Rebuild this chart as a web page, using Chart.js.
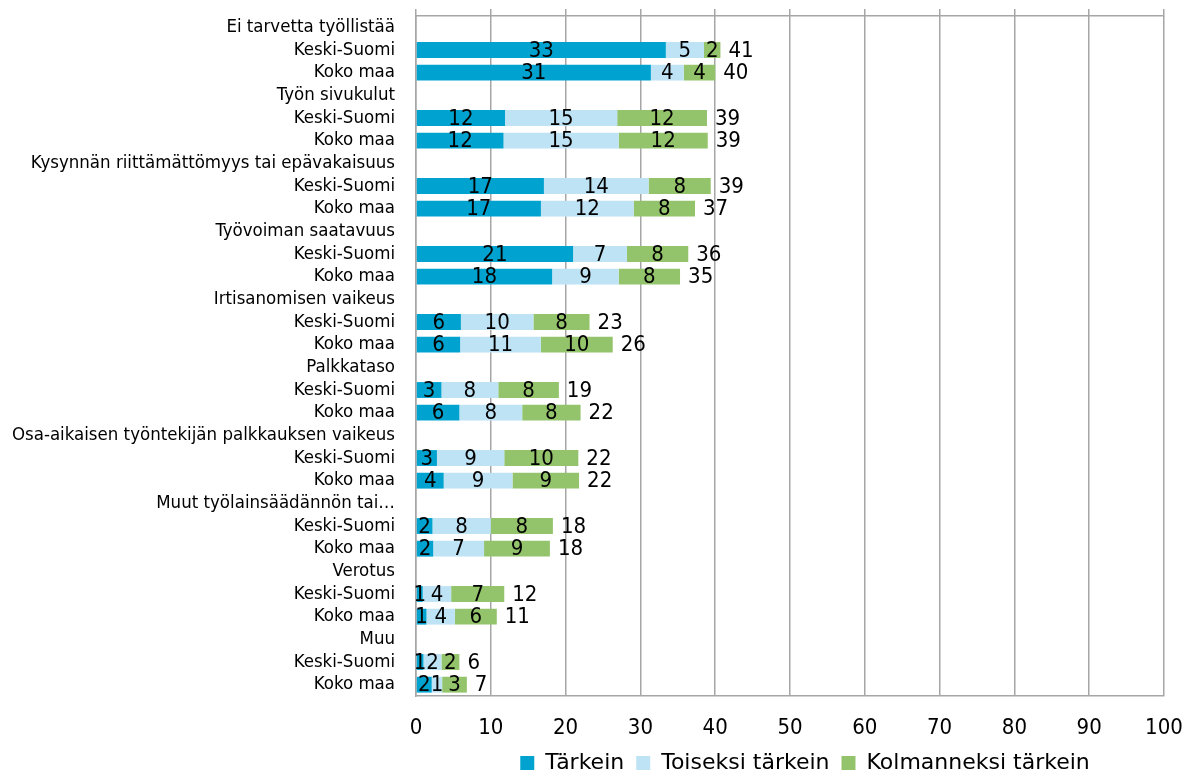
<!DOCTYPE html>
<html>
<head>
<meta charset="utf-8">
<script src="https://cdn.jsdelivr.net/npm/chart.js@4"></script>
<style>
  body { margin: 0; background: #fff; }
  canvas { display: block; }
</style>
</head>
<body>
<canvas id="myChart" width="1203" height="776"></canvas>
<script>
// rivit: otsikkorivi ilman palkkia + Keski-Suomi + Koko maa
const kategoriat = [
  "Ei tarvetta työllistää", "Keski-Suomi", "Koko maa",
  "Työn sivukulut", "Keski-Suomi", "Koko maa",
  "Kysynnän riittämättömyys tai epävakaisuus", "Keski-Suomi", "Koko maa",
  "Työvoiman saatavuus", "Keski-Suomi", "Koko maa",
  "Irtisanomisen vaikeus", "Keski-Suomi", "Koko maa",
  "Palkkataso", "Keski-Suomi", "Koko maa",
  "Osa-aikaisen työntekijän palkkauksen vaikeus", "Keski-Suomi", "Koko maa",
  "Muut työlainsäädännön tai…", "Keski-Suomi", "Koko maa",
  "Verotus", "Keski-Suomi", "Koko maa",
  "Muu", "Keski-Suomi", "Koko maa",
];

const tarkein = [
  null, 33.4, 31.4,
  null, 11.9, 11.7,
  null, 17.1, 16.7,
  null, 21.0, 18.2,
  null, 6.0, 5.9,
  null, 3.4, 5.8,
  null, 2.8, 3.7,
  null, 2.2, 2.3,
  null, 0.9, 1.4,
  null, 1.0, 2.1,
];
const toiseksi = [
  null, 5.1, 4.4,
  null, 15.0, 15.4,
  null, 14.0, 12.4,
  null, 7.2, 8.9,
  null, 9.7, 10.8,
  null, 7.6, 8.4,
  null, 9.0, 9.2,
  null, 7.8, 6.8,
  null, 3.8, 3.8,
  null, 2.4, 1.4,
];
const kolmanneksi = [
  null, 2.2, 4.2,
  null, 12.0, 11.9,
  null, 8.3, 8.2,
  null, 8.2, 8.2,
  null, 7.5, 9.6,
  null, 8.1, 7.8,
  null, 9.9, 8.9,
  null, 8.3, 8.8,
  null, 7.1, 5.6,
  null, 2.4, 3.3,
];

const xTicks = [0, 10, 20, 30, 40, 50, 60, 70, 80, 90, 100];

const fontti = "'DejaVu Sans Condensed', 'DejaVu Sans', sans-serif";
const harmaa = "#A6A6A6";

// arvot palkkien päälle ja summat perään
const arvoPlugin = {
  id: "arvot",
  afterLayout(chart) {
    // selite hieman oikealle kuten alkuperäisessä
    chart.legend.left += 15;
    chart.legend.right += 15;
  },
  afterDatasetsDraw(chart) {
    const ctx = chart.ctx;
    ctx.save();
    ctx.font = "22px " + fontti;
    ctx.fillStyle = "#000";
    ctx.textBaseline = "middle";
    chart.data.datasets.forEach((ds, i) => {
      const meta = chart.getDatasetMeta(i);
      meta.data.forEach((bar, j) => {
        const v = ds.data[j];
        if (v == null) return;
        ctx.textAlign = "center";
        ctx.fillText(Math.round(v), (bar.x + bar.base) / 2, bar.y + 1);
      });
    });
    // summat
    const last = chart.getDatasetMeta(chart.data.datasets.length - 1);
    last.data.forEach((bar, j) => {
      if (tarkein[j] == null) return;
      const sum = tarkein[j] + toiseksi[j] + kolmanneksi[j];
      ctx.textAlign = "left";
      ctx.fillText(Math.round(sum), bar.x + 8, bar.y + 1);
    });
    ctx.restore();
  },
};

const data = {
  labels: kategoriat,
  datasets: [
    { label: "Tärkein", data: tarkein, backgroundColor: "#00A3CF" },
    { label: "Toiseksi tärkein", data: toiseksi, backgroundColor: "#BEE3F5" },
    { label: "Kolmanneksi tärkein", data: kolmanneksi, backgroundColor: "#93C36A" },
  ],
};

const config = {
  type: "bar",
  data: data,
  plugins: [arvoPlugin],
  options: {
    indexAxis: "y",
    responsive: false,
    animation: false,
    categoryPercentage: 0.7,
    barPercentage: 1,
    layout: { padding: { left: 0, right: 39, top: 0, bottom: -8 } },
    plugins: {
      tooltip: { enabled: false },
      legend: {
        position: "bottom",
        fullSize: false,
        labels: {
          color: "#000",
          font: { family: "'DejaVu Sans', sans-serif", size: 22 },
          boxWidth: 14,
          boxHeight: 14,
          padding: 12,
        },
      },
    },
    scales: {
      x: {
        stacked: true,
        min: 0,
        max: 100,
        afterBuildTicks: (s) => { s.ticks = xTicks.map((v) => ({ value: v })); },
        afterFit: (s) => { s.height = 44; },
        grid: { color: harmaa, lineWidth: 1.5, drawTicks: false },
        border: { display: true, color: harmaa, width: 1.5 },
        ticks: { color: "#000", font: { family: fontti, size: 22 }, padding: 19 },
      },
      x2: {
        position: "top",
        min: 0,
        max: 100,
        afterBuildTicks: (s) => { s.ticks = xTicks.map((v) => ({ value: v })); },
        afterFit: (s) => { s.height = 16; },
        grid: { color: harmaa, lineWidth: 1.5, drawOnChartArea: false, tickLength: 7 },
        border: { display: true, color: harmaa, width: 1.5 },
        ticks: { display: false },
      },
      y: {
        stacked: true,
        afterFit: (s) => {
          s.width = 416;
          s.paddingTop = 0;
          s.paddingBottom = 0;
        },
        grid: { display: false },
        border: { display: true, color: harmaa, width: 1.5 },
        ticks: {
          autoSkip: false,
          color: "#000",
          font: { family: fontti, size: 18.5 },
          padding: 13,
        },
      },
    },
  },
};

var myChart = new Chart(document.getElementById("myChart"), config);
</script>
</body>
</html>
